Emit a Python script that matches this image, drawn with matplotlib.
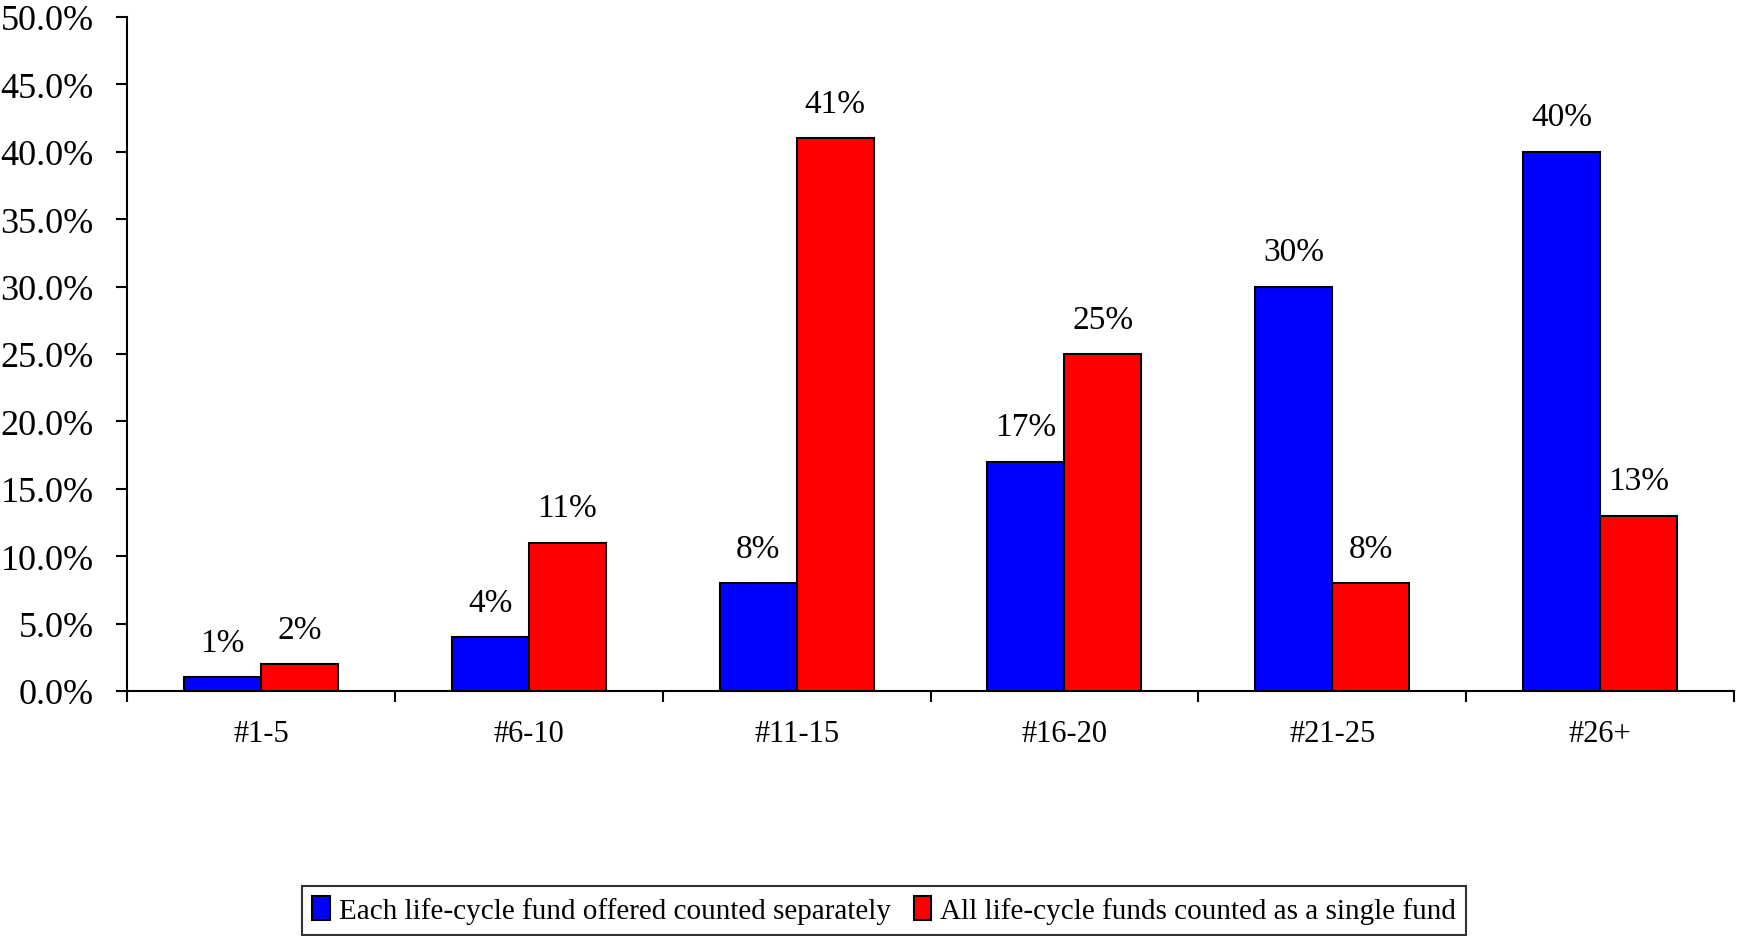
import matplotlib
matplotlib.use("Agg")
import matplotlib.pyplot as plt
import numpy as np

plt.rcParams['font.family'] = ['Liberation Serif', 'DejaVu Serif']

categories = ["#1-5", "#6-10", "#11-15", "#16-20", "#21-25", "#26+"]
separate = [1, 4, 8, 17, 30, 40]
single = [2, 11, 41, 25, 8, 13]
series_names = ["Each life-cycle fund offered counted separately",
                "All life-cycle funds counted as a single fund"]

fig = plt.figure(figsize=(17.38, 9.37), dpi=100)
ax = fig.add_axes([0.0731, 0.2615, 0.9246, 0.7193])

x = np.arange(len(categories))
w = 0.2875
b1 = ax.bar(x - w / 2, separate, w, color='#0000ff', edgecolor='black', linewidth=1.5, label=series_names[0])
b2 = ax.bar(x + w / 2, single, w, color='#ff0000', edgecolor='black', linewidth=1.5, label=series_names[1])

# value labels above each bar
for bars, vals in ((b1, separate), (b2, single)):
    for rect, v in zip(bars, vals):
        ax.annotate(f"{v}%", (rect.get_x() + rect.get_width() / 2, v),
                    xytext=(0, 14), textcoords='offset points',
                    ha='center', va='bottom', fontsize=24)

ax.set_xlim(-0.5, len(categories) - 0.5)
ax.set_ylim(0, 50)
ax.set_yticks(np.arange(0, 51, 5))
ax.set_yticklabels([f"{t:.1f}%" for t in np.arange(0, 51, 5)], fontsize=26)
# ticks between groups, labels at group centres
ax.set_xticks(np.arange(-0.5, len(categories), 1))
ax.set_xticklabels([])
ax.set_xticks(x, minor=True)
ax.set_xticklabels(categories, minor=True, fontsize=22)
ax.tick_params(axis='x', which='minor', length=0, pad=20)
ax.tick_params(axis='x', which='major', length=8, width=1.5, direction='out')
ax.tick_params(axis='y', length=8, width=1.5, direction='out', pad=16)

for s in ('top', 'right'):
    ax.spines[s].set_visible(False)
for s in ('left', 'bottom'):
    ax.spines[s].set_linewidth(1.5)

leg = fig.legend(loc='center', bbox_to_anchor=(0.5087, 0.0275), ncol=2,
                 fontsize=21, frameon=True, fancybox=False, edgecolor='black',
                 handlelength=0.6, handleheight=0.9, handletextpad=0.3,
                 columnspacing=0.8, borderpad=0.35)
leg.get_frame().set_linewidth(1.5)

fig.savefig("out.png", dpi=100)
